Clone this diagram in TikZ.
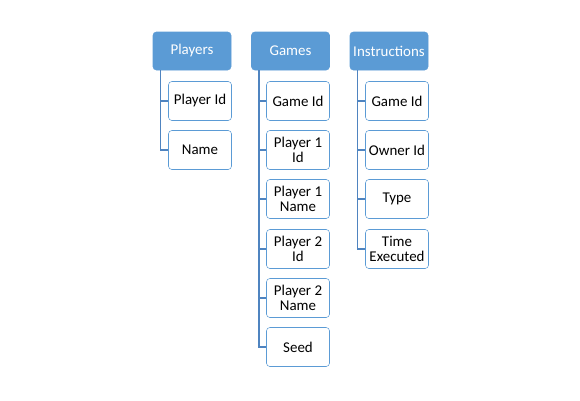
\documentclass[tikz,border=0pt]{standalone}
\usepackage{fontspec}
\setmainfont{Carlito}
\usepackage{xcolor}
\usepackage{tikz}

\definecolor{hdrblue}{HTML}{5B9BD5}
\definecolor{lineblue}{HTML}{4F84C0}

\tikzset{
  header/.style={draw=hdrblue, fill=hdrblue, text=white, rounded corners=2.5pt,
    minimum width=58.5pt, minimum height=28.5pt, inner sep=0pt,
    font=\fontsize{11.2}{11.25}\selectfont},
  field/.style={draw=hdrblue, fill=white, rounded corners=2.5pt, align=center,
    minimum width=47.25pt, minimum height=29.25pt, inner sep=0pt,
    font=\fontsize{11.2}{11.25}\selectfont},
  link/.style={draw=lineblue, line width=0.8pt}
}

\begin{document}
\begin{tikzpicture}[x=0.75pt, y=-0.75pt]
             \useasboundingbox (0,0) rectangle (580,400);

             % tables
             \node[header] (players) at (192, 51) {Players};
             \node[header] (games) at (290.5, 51) {Games};
             \node[header] (instr) at (389, 51) {Instructions};

             % Players fields
             \node[field] (plyid) at (200, 101) {Player Id};
             \node[field] (plyname) at (200, 150) {Name};

             % Games fields
             \node[field] (gmid) at (298, 101) {Game Id};
             \node[field] (gmponeid) at (298, 150) {Player 1\\Id};
             \node[field] (gmponename) at (298, 199) {Player 1\\Name};
             \node[field] (gmptwoid) at (298, 249) {Player 2\\Id};
             \node[field] (gmptwoname) at (298, 298) {Player 2\\Name};
             \node[field] (gmseed) at (298, 347) {Seed};

             % Instructions fields
             \node[field] (insgame) at (397, 101) {Game Id};
             \node[field] (insowner) at (397, 150) {Owner Id};
             \node[field] (instype) at (397, 199) {Type};
             \node[field] (instime) at (397, 249) {Time\\Executed};

             \coordinate (plytop) at (160.5, 70);
             \coordinate (gmtop) at (259, 70);
             \coordinate (instop) at (357.5, 70);

             \draw[link] (plytop) |- (plyid.west);
             \draw[link] (plytop) |- (plyname.west);

             \draw[link] (gmtop) |- (gmid.west);
             \draw[link] (gmtop) |- (gmponeid.west);
             \draw[link] (gmtop) |- (gmponename.west);
             \draw[link] (gmtop) |- (gmptwoid.west);
             \draw[link] (gmtop) |- (gmptwoname.west);
             \draw[link] (gmtop) |- (gmseed.west);

             \draw[link] (instop) |- (insgame.west);
             \draw[link] (instop) |- (insowner.west);
             \draw[link] (instop) |- (instype.west);
             \draw[link] (instop) |- (instime.west);
\end{tikzpicture}
\end{document}
